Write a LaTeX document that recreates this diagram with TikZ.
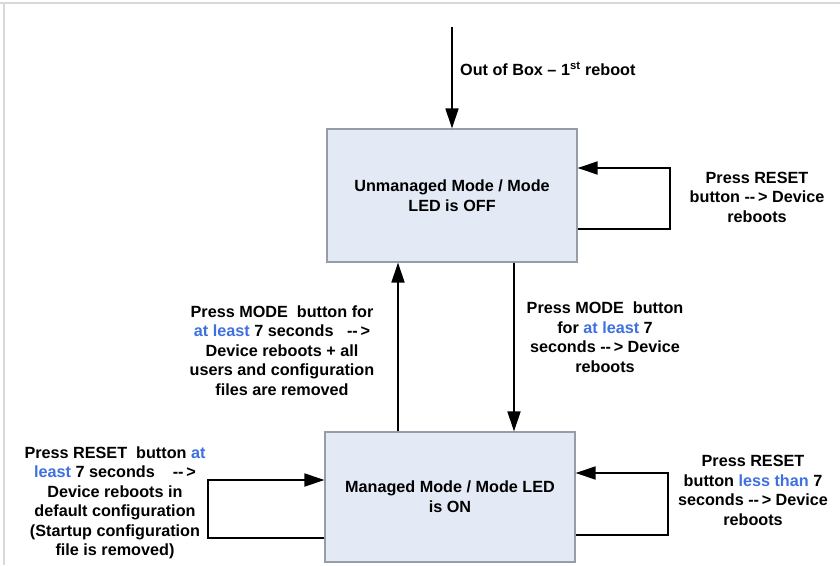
\documentclass[tikz,border=0pt]{standalone}
\usepackage{fontspec}
\setmainfont{Liberation Sans}
\usepackage{xcolor}
\usepackage{tikz}
\usetikzlibrary{positioning,calc,arrows.meta}
\definecolor{boxfill}{RGB}{228,234,245}
\definecolor{boxline}{RGB}{150,156,168}
\definecolor{hl}{RGB}{62,112,226}
\newcommand{\hlt}[1]{\textcolor{hl}{#1}}
\newcommand{\darr}{-{}-\,>}
\tikzset{
  mode/.style={draw=boxline, fill=boxfill, line width=1.2pt, minimum width=250pt, align=center,
    font=\fontsize{16.2}{20}\selectfont\bfseries},
  lbl/.style={align=center, inner sep=0pt, font=\fontsize{16.2}{19.5}\selectfont\bfseries},
  arr/.style={line width=1.8pt, -{Triangle[length=20pt,width=13pt]}},
}

\begin{document}
\begin{tikzpicture}[x=1pt, y=-1pt]
    \useasboundingbox (0,0) rectangle (840,565);
    \draw[gray!30, line width=1.5pt] (0,3) -- (840,3) (4,3) -- (4,565);

    \node [mode, minimum height=133pt] (unman) at (452,195.5) {Unmanaged Mode / Mode\\LED is OFF};
    \node [mode, minimum height=130pt] (man) at (450,497) {Managed Mode / Mode LED\\is ON};

    \coordinate (obx) at (452,27);
    \coordinate (up) at (398,0);
    \coordinate (dn) at (514,0);
    \coordinate (rt) at (670,168);
    \coordinate (rb) at (670,229);
    \coordinate (brt) at (668,473);
    \coordinate (brb) at (668,535);
    \coordinate (blt) at (208,480);
    \coordinate (blb) at (208,538);

    \draw [arr] (obx) -- (unman.north);
    \draw [arr] (rb -| unman.east) -- (rb) -- (rt) -- (rt -| unman.east);
    \draw [arr] (up |- man.north) -- (up |- unman.south);
    \draw [arr] (dn |- unman.south) -- (dn |- man.north);
    \draw [arr] (brb -| man.east) -- (brb) -- (brt) -- (brt -| man.east);
    \draw [arr] (blb -| man.west) -- (blb) -- (blt) -- (blt -| man.west);

    \node [lbl, anchor=west] (oob) at (460,69) {Out of Box -- 1\textsuperscript{st} reboot};
    \node [lbl] (rst1) at (757,197) {Press RESET\\button \darr{} Device\\reboots};
    \node [lbl] (md1) at (282,350.5) {Press MODE\ \ button for\\\hlt{at least} 7 seconds\ \ \ \darr\\Device reboots + all\\users and configuration\\files are removed};
    \node [lbl] (md2) at (605,337) {Press MODE\ \ button\\for \hlt{at least} 7\\seconds \darr{} Device\\reboots};
    \node [lbl] (rst2) at (115,503) {Press RESET\ \ button \hlt{at}\\\hlt{least} 7 seconds\ \ \ \ \darr\\Device reboots in\\default configuration\\(Startup configuration\\file is removed)};
    \node [lbl] (rst3) at (753,490.5) {Press RESET\\button \hlt{less than} 7\\seconds \darr{} Device\\reboots};
\end{tikzpicture}
\end{document}
